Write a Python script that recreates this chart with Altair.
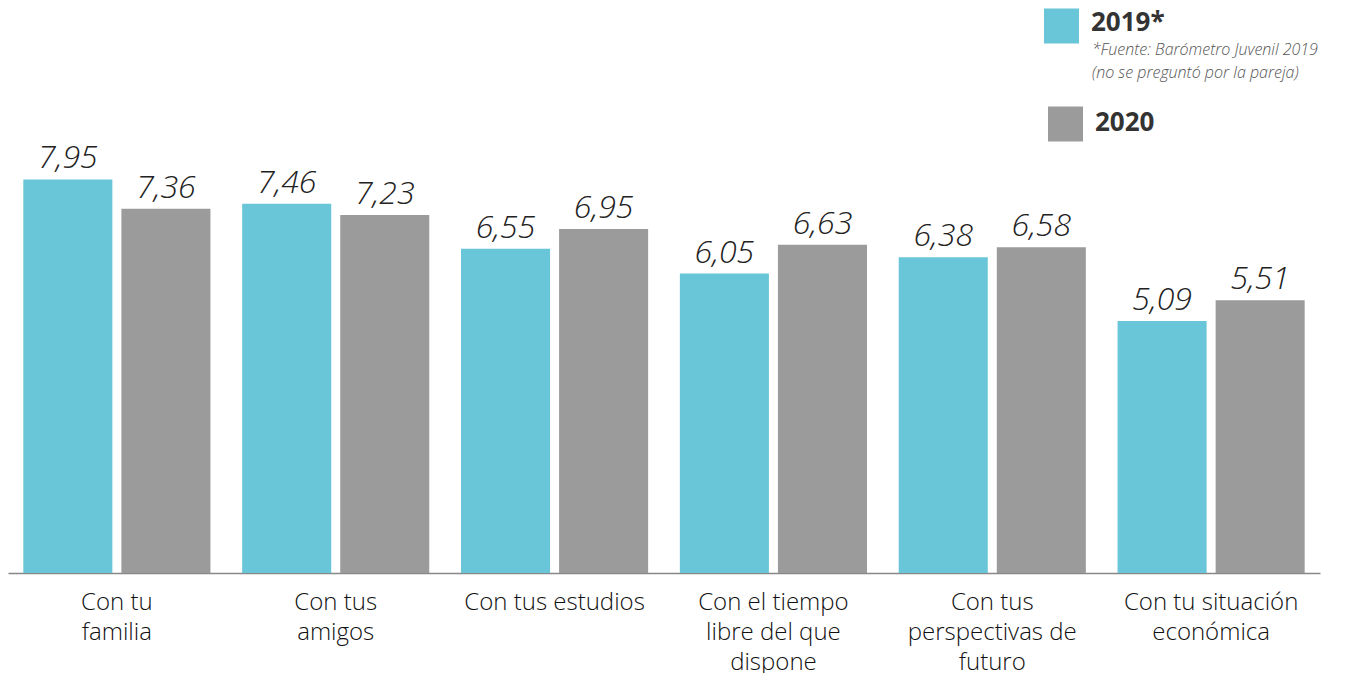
import altair as alt
import pandas as pd

categories = ["Con tu|familia", "Con tus|amigos", "Con tus estudios",
              "Con el tiempo|libre del que|dispone", "Con tus|perspectivas de|futuro",
              "Con tu situación|económica"]
values_2019 = [7.95, 7.46, 6.55, 6.05, 6.38, 5.09]
values_2020 = [7.36, 7.23, 6.95, 6.63, 6.58, 5.51]
years = ["2019*", "2020"]
colors = ["#69C5D8", "#9B9B9B"]

rows = []
for c, a, b in zip(categories, values_2019, values_2020):
    rows.append({"cat": c, "year": years[0], "v": a})
    rows.append({"cat": c, "year": years[1], "v": b})
df = pd.DataFrame(rows)

FONT = "Open Sans"

x = alt.X("cat:N", sort=categories, title=None,
          scale=alt.Scale(paddingInner=0.145, paddingOuter=0.07),
          axis=alt.Axis(labelExpr="split(datum.label, '|')", labelAngle=0,
                        labelFontSize=24, labelColor="#111", labelFont=FONT,
                        labelFontWeight=300,
                        labelLineHeight=30, labelPadding=17, labelLimit=400,
                        ticks=False, domainColor="#888", domainWidth=1.5,
                        labelBaseline="top"))
xo = alt.XOffset("year:N", sort=years, scale=alt.Scale(paddingInner=0.092, paddingOuter=0))
y = alt.Y("v:Q", scale=alt.Scale(domain=[0, 10]), axis=None)
cscale = alt.Scale(domain=years, range=colors)
color = alt.Color("year:N", sort=years, scale=cscale, legend=None)

base = alt.Chart(df)
bars = base.mark_bar().encode(x=x, xOffset=xo, y=y, color=color)
labels = base.transform_calculate(
    lbl="replace(format(datum.v, '.2f'), '.', ',')"
).mark_text(baseline="bottom", dy=-4, fontSize=32, fontStyle="italic",
            font=FONT, fontWeight=300, color="#222").encode(
    x=x, xOffset=xo, y=y, text="lbl:N")

legend_sq1 = alt.Chart(pd.DataFrame({"year": [years[0]]})).mark_square(size=1225, opacity=1).encode(
    x=alt.value(1053.5), y=alt.value(-52), color=alt.Color("year:N", scale=cscale, legend=None))
legend_sq2 = alt.Chart(pd.DataFrame({"year": [years[1]]})).mark_square(size=1225, opacity=1).encode(
    x=alt.value(1057.5), y=alt.value(46), color=alt.Color("year:N", scale=cscale, legend=None))
legend_t1 = alt.Chart(pd.DataFrame({"t": ["2019*"]})).mark_text(
    align="left", baseline="middle", fontSize=26, fontWeight="bold", font=FONT, color="#333"
).encode(x=alt.value(1083), y=alt.value(-55), text="t:N")
legend_t2 = alt.Chart(pd.DataFrame({"t": ["2020"]})).mark_text(
    align="left", baseline="middle", fontSize=26, fontWeight="bold", font=FONT, color="#333"
).encode(x=alt.value(1087), y=alt.value(45), text="t:N")
note = alt.Chart(pd.DataFrame({"t": [["*Fuente: Barómetro Juvenil 2019", " (no se preguntó por la pareja)"]]})).mark_text(
    align="left", baseline="middle", fontSize=16, fontStyle="italic", font=FONT, color="#555",
    fontWeight=300, lineHeight=23
).encode(x=alt.value(1084), y=alt.value(-28), text="t")

chart = alt.layer(bars, labels, legend_sq1, legend_sq2, legend_t1, legend_t2, note).properties(
    width=1312, height=495,
    padding={"left": 0, "top": 70, "right": 18, "bottom": 100},
    autosize=alt.AutoSizeParams(type="none"),
    background="white"
).configure_view(stroke=None)

chart.save("out.html", embed_options={"renderer": "svg", "actions": False})
